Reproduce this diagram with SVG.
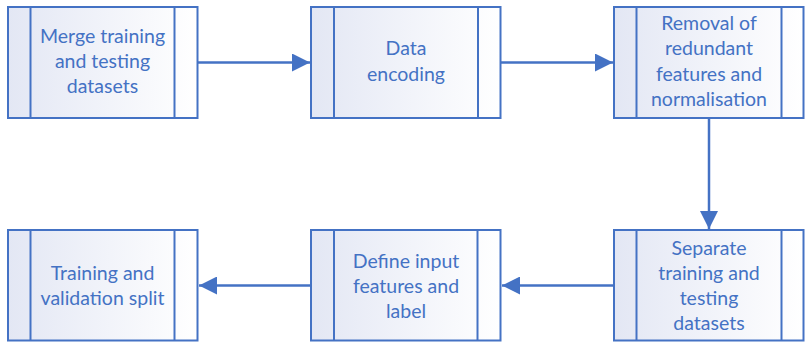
<svg xmlns="http://www.w3.org/2000/svg" width="806" height="345" viewBox="0 0 806 345">
  <defs>
    <linearGradient id="boxFill" x1="0" y1="0" x2="1" y2="0">
      <stop offset="0" stop-color="#e3e7f4"/>
      <stop offset="1" stop-color="#ffffff"/>
    </linearGradient>
    <marker id="arrow" viewBox="0 0 18 18" refX="18" refY="9" markerWidth="18" markerHeight="18" markerUnits="userSpaceOnUse" orient="auto">
      <path d="M0,0 L18,9 L0,18 Z" fill="#4472c4"/>
    </marker>
  </defs>
  <style>
    .box { fill: url(#boxFill); stroke: #4472c4; stroke-width: 2; }
    .bar { stroke: #4472c4; stroke-width: 2; }
    .label { font-family: Lato, "Open Sans", "Liberation Sans", sans-serif; font-size: 19.5px; fill: #4472c4; text-anchor: middle; }
    .conn { fill: none; stroke: #4472c4; stroke-width: 2.5; marker-end: url(#arrow); }
  </style>

  <g id="connectors">
    <line class="conn" x1="198" y1="62.5" x2="310" y2="62.5"/>
    <line class="conn" x1="501" y1="62.5" x2="613" y2="62.5"/>
    <line class="conn" x1="709" y1="118" x2="709" y2="229"/>
    <line class="conn" x1="614" y1="285.5" x2="502" y2="285.5"/>
    <line class="conn" x1="311" y1="285.5" x2="199" y2="285.5"/>
  </g>

  <g id="merge">
    <rect class="box" x="8" y="7" width="189.5" height="111"/>
    <line class="bar" x1="30.5" y1="7" x2="30.5" y2="118"/>
    <line class="bar" x1="174.5" y1="7" x2="174.5" y2="118"/>
    <text class="label" x="102.5" y="43">Merge training</text>
    <text class="label" x="102.5" y="68">and testing</text>
    <text class="label" x="102.5" y="93">datasets</text>
  </g>

  <g id="encoding">
    <rect class="box" x="311" y="7" width="189.5" height="111"/>
    <line class="bar" x1="334" y1="7" x2="334" y2="118"/>
    <line class="bar" x1="478" y1="7" x2="478" y2="118"/>
    <text class="label" x="406" y="55">Data</text>
    <text class="label" x="406" y="81">encoding</text>
  </g>

  <g id="removal">
    <rect class="box" x="614" y="7" width="189.5" height="111"/>
    <line class="bar" x1="636.5" y1="7" x2="636.5" y2="118"/>
    <line class="bar" x1="781.5" y1="7" x2="781.5" y2="118"/>
    <text class="label" x="709" y="30">Removal of</text>
    <text class="label" x="709" y="55">redundant</text>
    <text class="label" x="709" y="81">features and</text>
    <text class="label" x="709" y="106">normalisation</text>
  </g>

  <g id="separate">
    <rect class="box" x="614" y="230" width="189.5" height="110.5"/>
    <line class="bar" x1="636.5" y1="230" x2="636.5" y2="340.5"/>
    <line class="bar" x1="781.5" y1="230" x2="781.5" y2="340.5"/>
    <text class="label" x="709" y="255">Separate</text>
    <text class="label" x="709" y="280">training and</text>
    <text class="label" x="709" y="305">testing</text>
    <text class="label" x="709" y="330">datasets</text>
  </g>

  <g id="define">
    <rect class="box" x="311" y="230" width="189.5" height="110.5"/>
    <line class="bar" x1="334" y1="230" x2="334" y2="340.5"/>
    <line class="bar" x1="477.5" y1="230" x2="477.5" y2="340.5"/>
    <text class="label" x="406" y="268">Define input</text>
    <text class="label" x="406" y="293">features and</text>
    <text class="label" x="406" y="318">label</text>
  </g>

  <g id="split">
    <rect class="box" x="8" y="230" width="189.5" height="110.5"/>
    <line class="bar" x1="30.5" y1="230" x2="30.5" y2="340.5"/>
    <line class="bar" x1="174.5" y1="230" x2="174.5" y2="340.5"/>
    <text class="label" x="102.5" y="280">Training and</text>
    <text class="label" x="102.5" y="305">validation split</text>
  </g>
</svg>
